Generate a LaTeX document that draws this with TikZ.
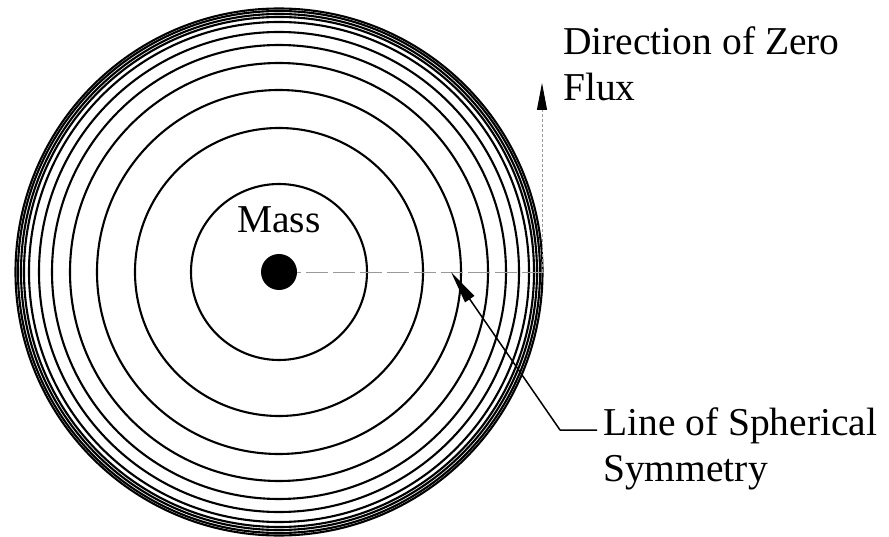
\documentclass[tikz,border=0pt]{standalone}
\usepackage{fontspec}
\setmainfont{Liberation Serif}
\usetikzlibrary{arrows.meta}

\begin{document}
\begin{tikzpicture}[x=1pt, y=1pt, line join=round,
    shell/.style={line width=2.1pt},
    axisline/.style={gray!80, line width=0.9pt, dash pattern=on 22pt off 5pt},
    caption/.style={font=\fontsize{39.5}{46}\selectfont, inner sep=0pt}]

    \useasboundingbox (0,0) rectangle (889,536);

    % Centre of the mass and the points the arrows use
    \coordinate (M) at (279, 264);
    \coordinate (E) at (545, 264);
    \coordinate (B) at (542, 264);
    \coordinate (F) at (542, 453);
    \coordinate (S) at (451, 264);
    \coordinate (K) at (560, 106);

    % Equipotential shells, closer together further out
    \foreach \r in {88, 144, 182, 209, 227, 240, 250, 255, 258, 261, 263.5}
        \draw[shell] (M) circle (\r);

    % Line of spherical symmetry and direction of zero flux
    \draw[axisline] (M) -- (E);
    \draw[gray!80, line width=0.9pt, dash pattern=on 3pt off 2pt,
          -{Triangle[length=27pt, width=10pt, color=black, fill=black]}] (B) -- (F);

    % The mass
    \fill[black] (M) circle (18);
    \node[caption, anchor=base] (mass) at (279, 303) {Mass};

    % Labels (base anchor sits on the last line)
    \node[caption, anchor=base west, align=left] (flux) at (563, 435) {Direction of Zero\\Flux};
    \node[caption, anchor=base west, align=left] (sym) at (603, 55) {Line of Spherical\\Symmetry};

    % Leader to the line of symmetry
    \draw[line width=1.5pt, -{Triangle[length=33pt, width=11pt]}]
        (sym.west |- K) ++(-6, 0) -- (K) -- (S);

\end{tikzpicture}
\end{document}
